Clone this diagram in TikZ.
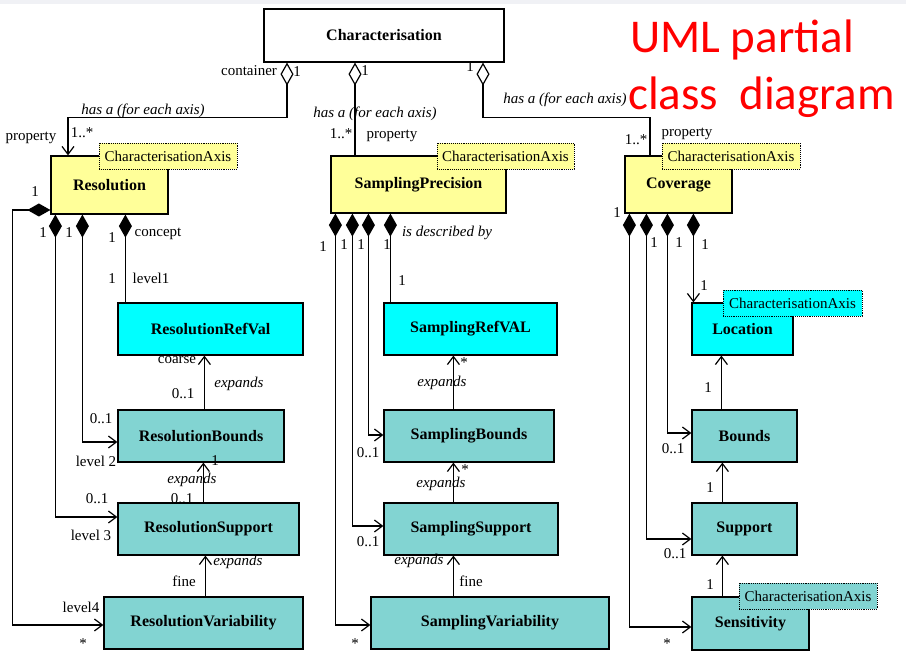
\documentclass[tikz,border=0pt]{standalone}
\usepackage{fontspec}
\setmainfont{Liberation Serif}
\newfontfamily\titlefont{Carlito}
\usetikzlibrary{arrows.meta}
\definecolor{clsyellow}{RGB}{255,255,153}
\definecolor{clscyan}{RGB}{0,255,255}
\definecolor{clsteal}{RGB}{130,212,210}
\definecolor{slidegray}{RGB}{240,241,245}
\tikzset{
    cls/.style={rectangle,draw=black,line width=1.2pt,inner sep=0pt,font=\fontsize{16}{18}\selectfont\bfseries},
    note/.style={rectangle,draw=black,densely dotted,line width=0.9pt,inner sep=1pt,minimum height=26pt,font=\fontsize{15}{17}\selectfont},
    lbl/.style={anchor=base,inner sep=0pt,font=\fontsize{15}{17}\selectfont},
    role/.style={anchor=base,inner sep=0pt,font=\fontsize{15}{17}\selectfont\itshape},
    link/.style={line width=1.2pt},
    has/.style={link,-{Straight Barb[length=8pt,width=12pt]}},
    part/.style={link,{Diamond[length=23pt,width=13pt]}-{Straight Barb[length=8pt,width=12pt]}},
    partline/.style={link,{Diamond[length=23pt,width=13pt]}-},
    agg/.style={link,{Diamond[open,length=23pt,width=13pt]}-},
    aggto/.style={link,{Diamond[open,length=23pt,width=13pt]}-{Straight Barb[length=8pt,width=12pt]}},
}

\begin{document}
\begin{tikzpicture}[x=1pt,y=-1pt]
    \useasboundingbox (0,0) rectangle (906,655);
    \fill[white] (0,0) rectangle (906,655);
    \fill[slidegray] (0,0) rectangle (906,4);

    \node[anchor=base west,inner sep=0pt,text=red,font=\titlefont\fontsize{47}{50}\selectfont] (title1) at (630,53) {UML partial};
    \node[anchor=base west,inner sep=0pt,text=red,font=\titlefont\fontsize{47}{50}\selectfont] (title2) at (628,110) {class\ \ diagram};

    % classes
    \node[cls,fill=white,minimum width=240pt,minimum height=53pt] (char) at (384,35.5) {Characterisation};
    \node[cls,fill=clsyellow,minimum width=117pt,minimum height=58pt] (res) at (109.5,185) {Resolution};
    \node[cls,fill=clsyellow,minimum width=175pt,minimum height=57pt] (samp) at (418.5,184.5) {SamplingPrecision};
    \node[cls,fill=clsyellow,minimum width=107pt,minimum height=57pt] (cov) at (678.5,184.5) {Coverage};

    \node[cls,fill=clscyan,minimum width=185pt,minimum height=52pt] (rref) at (210.5,329) {ResolutionRefVal};
    \node[cls,fill=clsteal,minimum width=166pt,minimum height=52pt] (rbnd) at (201,436) {ResolutionBounds};
    \node[cls,fill=clsteal,minimum width=181pt,minimum height=52pt] (rsup) at (208.5,529) {ResolutionSupport};
    \node[cls,fill=clsteal,minimum width=199pt,minimum height=52pt] (rvar) at (203.5,623) {ResolutionVariability};

    \node[cls,fill=clscyan,minimum width=173pt,minimum height=52pt] (sref) at (470.5,329) {SamplingRefVAL};
    \node[cls,fill=clsteal,minimum width=170pt,minimum height=52pt] (sbnd) at (469,436) {SamplingBounds};
    \node[cls,fill=clsteal,minimum width=174pt,minimum height=52pt] (ssup) at (471,529) {SamplingSupport};
    \node[cls,fill=clsteal,minimum width=238pt,minimum height=52pt] (svar) at (490,623) {SamplingVariability};

    \node[cls,fill=clscyan,minimum width=101pt,minimum height=52pt] (loc) at (742.5,329) {Location};
    \node[cls,fill=clsteal,minimum width=105pt,minimum height=52pt] (bnd) at (744.5,436) {Bounds};
    \node[cls,fill=clsteal,minimum width=105pt,minimum height=52pt] (sup) at (744.5,529) {Support};
    \node[cls,fill=clsteal,minimum width=117pt,minimum height=53pt] (sens) at (750.5,623.5) {Sensitivity};

    % stereotype notes
    \node[note,fill=clsyellow,minimum width=138pt] (resax) at (168,156) {CharacterisationAxis};
    \node[note,fill=clsyellow,minimum width=137pt] (sampax) at (505.5,156) {CharacterisationAxis};
    \node[note,fill=clsyellow,minimum width=138pt] (covax) at (731,156) {CharacterisationAxis};
    \node[note,fill=clscyan,minimum width=139pt] (locax) at (792.5,303) {CharacterisationAxis};
    \node[note,fill=clsteal,minimum width=138pt] (sensax) at (808,596) {CharacterisationAxis};

    % container links
    \draw[aggto] ([xshift=-97pt]char.south) -- ++(0,55) -| ([xshift=-41.5pt]res.north);
    \draw[agg] ([xshift=-29pt]char.south) -- ([xshift=-63.5pt]samp.north);
    \draw[agg] ([xshift=99pt]char.south) -- ++(0,55) -| ([xshift=-28.5pt]cov.north);

    \draw[part] ([yshift=-25pt]res.west) -- ++(-38,0) |- ([yshift=-2pt]rvar.west);
    \draw[part] ([xshift=5pt]res.south west) |- ([yshift=12pt]rsup.west);
    \draw[part] ([xshift=32pt]res.south west) |- ([yshift=-6pt]rbnd.west);
    \draw[partline] ([xshift=75pt]res.south west) -- ([xshift=8pt]rref.north west);
    \draw[has] ([xshift=87pt]rbnd.north west) -- ([xshift=87pt]rref.south west);
    \draw[has] ([xshift=86pt]rsup.north west) -- ([xshift=86pt]rbnd.south west);
    \draw[has] ([xshift=102pt]rvar.north west) -- ([xshift=88pt]rsup.south west);

    \draw[part] ([xshift=5pt]samp.south west) |- ([yshift=-2pt]svar.west);
    \draw[part] ([xshift=22pt]samp.south west) |- ([yshift=3pt]ssup.west);
    \draw[part] ([xshift=38pt]samp.south west) |- ([yshift=1pt]sbnd.west);
    \draw[partline] ([xshift=60pt]samp.south west) -- ([xshift=7pt]sref.north west);
    \draw[has] ([xshift=70pt]sbnd.north west) -- ([xshift=70pt]sref.south west);
    \draw[has] ([xshift=70pt]ssup.north west) -- ([xshift=70pt]sbnd.south west);
    \draw[has] ([xshift=83pt]svar.north west) -- ([xshift=70pt]ssup.south west);

    \draw[part] ([xshift=5pt]cov.south west) |- ([yshift=-3.5pt]sens.west);
    \draw[part] ([xshift=22pt]cov.south west) |- ([yshift=-10pt]sup.west);
    \draw[part] ([xshift=43pt]cov.south west) |- ([yshift=3pt]bnd.west);
    \draw[part] ([xshift=69pt]cov.south west) -- ([xshift=2pt]loc.north west);
    \draw[has] ([xshift=30pt]bnd.north west) -- ([xshift=30pt]loc.south west);
    \draw[has] ([xshift=31pt]sup.north west) -- ([xshift=31pt]bnd.south west);
    \draw[has] ([xshift=31pt]sens.north west) -- ([xshift=31pt]sup.south west);

    % multiplicities
    \foreach \x/\y/\t [count=\i] in {297/77/1, 365/76/1, 470/72/1, 82/138/1..*, 341/139/1..*, 636/145/1..*,
        35/197/1, 43/238/1, 69/238/1, 112/243/1, 112/284/1, 183/399/0..1, 101/424/0..1,
        215/465/1, 182/503/0..1, 97/503/0..1, 83/648/*,
        323/252/1, 344/250/1, 361/250/1, 387/250/1, 402/286/1, 464/367/*, 368/457/0..1,
        465/474/*, 368/546/0..1, 355/648/*,
        617/218/1, 654/248/1, 679/248/1, 705/250/1, 704/291/1, 708/392/1, 673/453/0..1,
        710/492/1, 675/558/0..1, 710/589/1, 667/648/*}
        \node[lbl] (mult\i) at (\x,\y) {\t};

    % role names
    \node[lbl] (container) at (249,76) {container};
    \node[lbl] (propres) at (31,141) {property};
    \node[lbl] (propsamp) at (392,139) {property};
    \node[lbl] (propcov) at (687,137) {property};
    \node[lbl] (concept) at (158,237) {concept};
    \node[lbl] (levone) at (151,284) {level1};
    \node[lbl] (coarse) at (177,364) {coarse};
    \node[lbl] (levtwo) at (96,466) {level 2};
    \node[lbl] (levthree) at (91,540) {level 3};
    \node[lbl] (levfour) at (81,612) {level4};
    \node[lbl] (fineres) at (184,586) {fine};
    \node[lbl] (finesamp) at (471,586) {fine};

    \node[role] (hasres) at (143,115) {has a (for each axis)};
    \node[role] (hassamp) at (375,118) {has a (for each axis)};
    \node[role] (hascov) at (565,104) {has a (for each axis)};
    \node[role] (descr) at (447,237) {is described by};
    \node[role] (exprone) at (239,388) {expands};
    \node[role] (exprtwo) at (192,483) {expands};
    \node[role] (exprthree) at (238,565) {expands};
    \node[role] (expsone) at (442,387) {expands};
    \node[role] (expstwo) at (441,487) {expands};
    \node[role] (expsthree) at (419,564) {expands};
\end{tikzpicture}
\end{document}
